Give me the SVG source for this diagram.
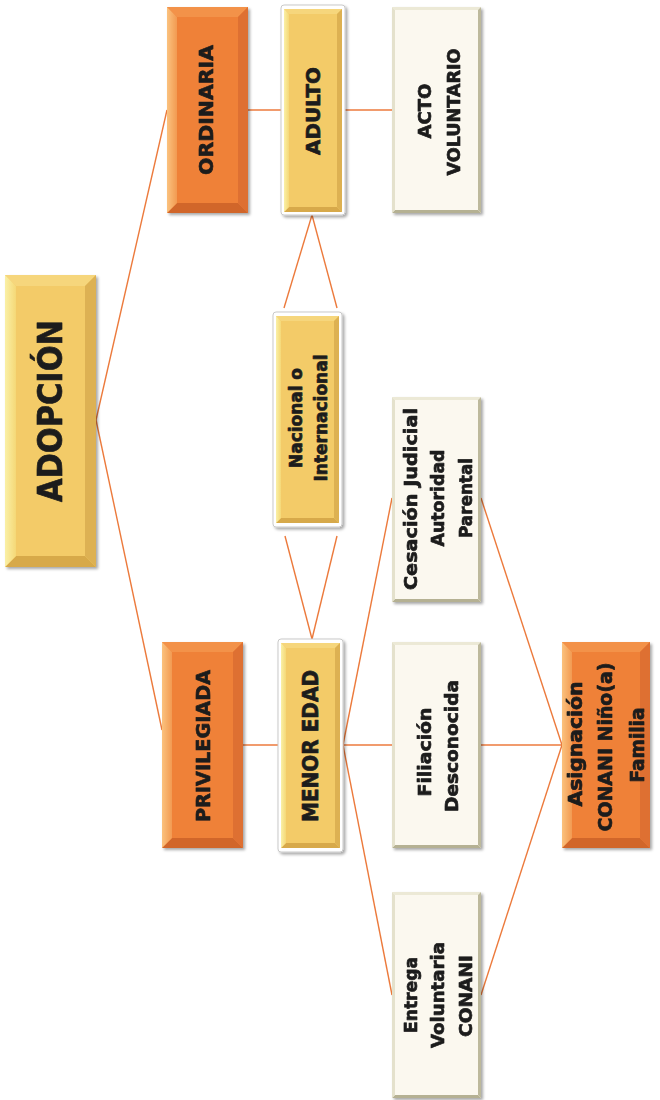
<svg xmlns="http://www.w3.org/2000/svg" width="660" height="1100" viewBox="0 0 660 1100">
  <defs>
    <filter id="shadow" x="-10%" y="-10%" width="130%" height="130%">
      <feGaussianBlur in="SourceAlpha" stdDeviation="1.5"/>
      <feOffset dx="2" dy="2" result="b"/>
      <feComponentTransfer><feFuncA type="linear" slope="0.35"/></feComponentTransfer>
      <feMerge><feMergeNode/><feMergeNode in="SourceGraphic"/></feMerge>
    </filter>
    <linearGradient id="orangeLeft" x1="0" y1="0" x2="1" y2="0">
      <stop offset="0" stop-color="#FBC27E"/>
      <stop offset="1" stop-color="#F29A52"/>
    </linearGradient>
    <linearGradient id="yellowLeft" x1="0" y1="0" x2="1" y2="0">
      <stop offset="0" stop-color="#FAF0A6"/>
      <stop offset="1" stop-color="#F5D877"/>
    </linearGradient>
  </defs>
  <style>
    .conn line { stroke: #EC7A3C; stroke-width: 1.4; fill: none; }
    .lbl { font-family: "DejaVu Sans", "Liberation Sans", sans-serif; font-weight: bold; fill: #1C1C1C; stroke: #1C1C1C; stroke-width: 0.7; stroke-linejoin: round; text-anchor: middle; }
    .o-face { fill: #EF8138; }
    .o-top { fill: #F39249; }
    .o-left { fill: url(#orangeLeft); }
    .o-right { fill: #DE7030; }
    .o-bottom { fill: #D1662B; }
    .y-face { fill: #F3CB68; }
    .y-top { fill: #F6D67C; }
    .y-left { fill: url(#yellowLeft); }
    .y-right { fill: #DDB152; }
    .y-bottom { fill: #D7A94A; }
    .frame { fill: #FFFFFF; stroke: #C9C9C9; stroke-width: 1; }
    .c-face { fill: #FBF8EF; }
    .c-edge-l { fill: #E4E1CC; }
    .c-edge-t { fill: #ECE9D6; }
    .c-edge-r { fill: #BDB99C; }
    .c-edge-b { fill: #B5B193; }
  </style>

  <!-- connectors -->
  <g id="connectors" class="conn">
    <line x1="96" y1="420" x2="167" y2="110"/>
    <line x1="96" y1="420" x2="162" y2="730"/>
    <line x1="248" y1="110" x2="281" y2="110"/>
    <line x1="345" y1="110" x2="392" y2="110"/>
    <line x1="243" y1="745" x2="278" y2="745"/>
    <line x1="312" y1="215" x2="284" y2="308"/>
    <line x1="312" y1="215" x2="337" y2="308"/>
    <line x1="285" y1="536" x2="312" y2="639"/>
    <line x1="337" y1="536" x2="312" y2="639"/>
    <line x1="343" y1="745" x2="392" y2="498"/>
    <line x1="343" y1="745" x2="392" y2="745"/>
    <line x1="343" y1="745" x2="392" y2="995"/>
    <line x1="481" y1="498" x2="562" y2="745"/>
    <line x1="481" y1="745" x2="562" y2="745"/>
    <line x1="481" y1="995" x2="562" y2="745"/>
  </g>

  <!-- ADOPCIÓN: x5 y275 w91 h292 bevel 11 -->
  <g id="adopcion" filter="url(#shadow)">
    <rect class="y-face" x="5" y="275" width="91" height="292"/>
    <polygon class="y-top" points="5,275 96,275 85,286 16,286"/>
    <polygon class="y-bottom" points="5,567 96,567 85,556 16,556"/>
    <polygon class="y-left" points="5,275 16,286 16,556 5,567"/>
    <polygon class="y-right" points="96,275 85,286 85,556 96,567"/>
    <text class="lbl" font-size="33" stroke-width="1.2" textLength="182" lengthAdjust="spacingAndGlyphs" transform="translate(50,411) rotate(-90)" dy="0.36em">ADOPCIÓN</text>
  </g>

  <!-- ORDINARIA: x167 y7 w81 h206 -->
  <g id="ordinaria" filter="url(#shadow)">
    <rect class="o-face" x="167" y="7" width="81" height="206"/>
    <polygon class="o-top" points="167,7 248,7 238,17 177,17"/>
    <polygon class="o-bottom" points="167,213 248,213 238,203 177,203"/>
    <polygon class="o-left" points="167,7 177,17 177,203 167,213"/>
    <polygon class="o-right" points="248,7 238,17 238,203 248,213"/>
    <text class="lbl" font-size="20" textLength="130" lengthAdjust="spacingAndGlyphs" transform="translate(206,110) rotate(-90)" dy="0.36em">ORDINARIA</text>
  </g>

  <!-- ADULTO -->
  <g id="adulto">
    <rect class="frame" x="281" y="5" width="64" height="210" rx="3" filter="url(#shadow)"/>
    <rect class="y-face" x="284" y="9" width="58" height="203"/>
    <polygon class="y-top" points="284,9 342,9 337,14 289,14"/>
    <polygon class="y-bottom" points="284,212 342,212 337,207 289,207"/>
    <polygon class="y-left" points="284,9 289,14 289,207 284,212"/>
    <polygon class="y-right" points="342,9 337,14 337,207 342,212"/>
    <text class="lbl" font-size="20" textLength="88" lengthAdjust="spacingAndGlyphs" transform="translate(313,111) rotate(-90)" dy="0.36em">ADULTO</text>
  </g>

  <!-- ACTO VOLUNTARIO -->
  <g id="acto-voluntario" filter="url(#shadow)">
    <rect class="c-face" x="392" y="7" width="89" height="206"/>
    <polygon class="c-edge-t" points="392,7 481,7 478,10 395,10"/>
    <polygon class="c-edge-b" points="392,213 481,213 478,210 395,210"/>
    <polygon class="c-edge-l" points="392,7 395,10 395,210 392,213"/>
    <polygon class="c-edge-r" points="481,7 478,10 478,210 481,213"/>
    <text class="lbl" font-size="18" textLength="55" lengthAdjust="spacingAndGlyphs" transform="translate(425,111) rotate(-90)" dy="0.36em">ACTO</text>
    <text class="lbl" font-size="18" textLength="127" lengthAdjust="spacingAndGlyphs" transform="translate(454,112) rotate(-90)" dy="0.36em">VOLUNTARIO</text>
  </g>

  <!-- Nacional o Internacional -->
  <g id="nacional">
    <rect class="frame" x="273" y="312" width="69" height="215" rx="3" filter="url(#shadow)"/>
    <rect class="y-face" x="276" y="316" width="63" height="207"/>
    <polygon class="y-top" points="276,316 339,316 334,321 281,321"/>
    <polygon class="y-bottom" points="276,523 339,523 334,518 281,518"/>
    <polygon class="y-left" points="276,316 281,321 281,518 276,523"/>
    <polygon class="y-right" points="339,316 334,321 334,518 339,523"/>
    <text class="lbl" font-size="18" textLength="100" lengthAdjust="spacingAndGlyphs" transform="translate(296,418) rotate(-90)" dy="0.33em">Nacional o</text>
    <text class="lbl" font-size="18" textLength="127" lengthAdjust="spacingAndGlyphs" transform="translate(321,418) rotate(-90)" dy="0.33em">Internacional</text>
  </g>

  <!-- Cesación Judicial Autoridad Parental -->
  <g id="cesacion" filter="url(#shadow)">
    <rect class="c-face" x="392" y="397" width="89" height="205"/>
    <polygon class="c-edge-t" points="392,397 481,397 478,400 395,400"/>
    <polygon class="c-edge-b" points="392,602 481,602 478,599 395,599"/>
    <polygon class="c-edge-l" points="392,397 395,400 395,599 392,602"/>
    <polygon class="c-edge-r" points="481,397 478,400 478,599 481,602"/>
    <text class="lbl" font-size="18" textLength="182" lengthAdjust="spacingAndGlyphs" transform="translate(411,499) rotate(-90)" dy="0.33em">Cesación Judicial</text>
    <text class="lbl" font-size="18" textLength="97" lengthAdjust="spacingAndGlyphs" transform="translate(438,498) rotate(-90)" dy="0.33em">Autoridad</text>
    <text class="lbl" font-size="18" textLength="80" lengthAdjust="spacingAndGlyphs" transform="translate(466,498) rotate(-90)" dy="0.33em">Parental</text>
  </g>

  <!-- PRIVILEGIADA -->
  <g id="privilegiada" filter="url(#shadow)">
    <rect class="o-face" x="162" y="642" width="81" height="206"/>
    <polygon class="o-top" points="162,642 243,642 233,652 172,652"/>
    <polygon class="o-bottom" points="162,848 243,848 233,838 172,838"/>
    <polygon class="o-left" points="162,642 172,652 172,838 162,848"/>
    <polygon class="o-right" points="243,642 233,652 233,838 243,848"/>
    <text class="lbl" font-size="20" textLength="152" lengthAdjust="spacingAndGlyphs" transform="translate(203,746) rotate(-90)" dy="0.36em">PRIVILEGIADA</text>
  </g>

  <!-- MENOR EDAD -->
  <g id="menor-edad">
    <rect class="frame" x="278" y="639" width="65" height="213" rx="3" filter="url(#shadow)"/>
    <rect class="y-face" x="281" y="643" width="59" height="205"/>
    <polygon class="y-top" points="281,643 340,643 335,648 286,648"/>
    <polygon class="y-bottom" points="281,848 340,848 335,843 286,843"/>
    <polygon class="y-left" points="281,643 286,648 286,843 281,848"/>
    <polygon class="y-right" points="340,643 335,648 335,843 340,848"/>
    <text class="lbl" font-size="21" textLength="152" lengthAdjust="spacingAndGlyphs" transform="translate(310,746) rotate(-90)" dy="0.36em">MENOR EDAD</text>
  </g>

  <!-- Filiación Desconocida -->
  <g id="filiacion" filter="url(#shadow)">
    <rect class="c-face" x="392" y="642" width="89" height="206"/>
    <polygon class="c-edge-t" points="392,642 481,642 478,645 395,645"/>
    <polygon class="c-edge-b" points="392,848 481,848 478,845 395,845"/>
    <polygon class="c-edge-l" points="392,642 395,645 395,845 392,848"/>
    <polygon class="c-edge-r" points="481,642 478,645 478,845 481,848"/>
    <text class="lbl" font-size="18" textLength="89" lengthAdjust="spacingAndGlyphs" transform="translate(425,752) rotate(-90)" dy="0.33em">Filiación</text>
    <text class="lbl" font-size="18" textLength="132" lengthAdjust="spacingAndGlyphs" transform="translate(452,746) rotate(-90)" dy="0.33em">Desconocida</text>
  </g>

  <!-- Asignación CONANI Niño(a) Familia -->
  <g id="asignacion" filter="url(#shadow)">
    <rect class="o-face" x="562" y="642" width="88" height="206"/>
    <polygon class="o-top" points="562,642 650,642 640,652 572,652"/>
    <polygon class="o-bottom" points="562,848 650,848 640,838 572,838"/>
    <polygon class="o-left" points="562,642 572,652 572,838 562,848"/>
    <polygon class="o-right" points="650,642 640,652 640,838 650,848"/>
    <text class="lbl" font-size="19" textLength="125" lengthAdjust="spacingAndGlyphs" transform="translate(576,744) rotate(-90)" dy="0.33em">Asignación</text>
    <text class="lbl" font-size="19" textLength="169" lengthAdjust="spacingAndGlyphs" transform="translate(606,747) rotate(-90)" dy="0.33em">CONANI Niño(a)</text>
    <text class="lbl" font-size="19" textLength="75" lengthAdjust="spacingAndGlyphs" transform="translate(638,745) rotate(-90)" dy="0.33em">Familia</text>
  </g>

  <!-- Entrega Voluntaria CONANI -->
  <g id="entrega" filter="url(#shadow)">
    <rect class="c-face" x="392" y="892" width="89" height="206"/>
    <polygon class="c-edge-t" points="392,892 481,892 478,895 395,895"/>
    <polygon class="c-edge-b" points="392,1098 481,1098 478,1095 395,1095"/>
    <polygon class="c-edge-l" points="392,892 395,895 395,1095 392,1098"/>
    <polygon class="c-edge-r" points="481,892 478,895 478,1095 481,1098"/>
    <text class="lbl" font-size="18" textLength="76" lengthAdjust="spacingAndGlyphs" transform="translate(411,995) rotate(-90)" dy="0.33em">Entrega</text>
    <text class="lbl" font-size="18" textLength="106" lengthAdjust="spacingAndGlyphs" transform="translate(438,995) rotate(-90)" dy="0.33em">Voluntaria</text>
    <text class="lbl" font-size="18" textLength="82" lengthAdjust="spacingAndGlyphs" transform="translate(466,996) rotate(-90)" dy="0.33em">CONANI</text>
  </g>
</svg>
